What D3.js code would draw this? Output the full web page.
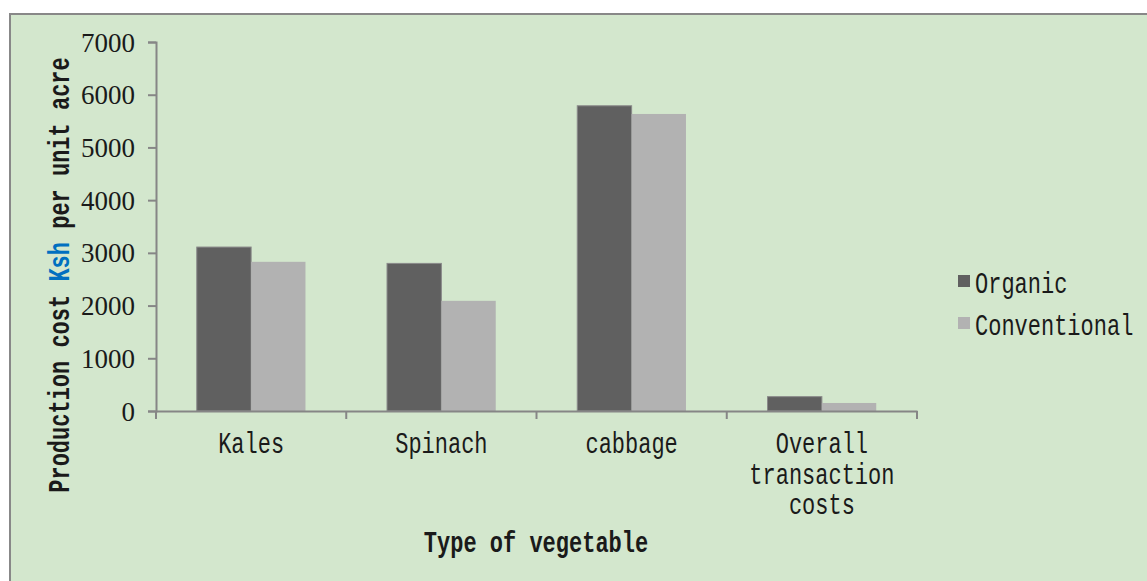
<!DOCTYPE html>
<html>
<head>
<meta charset="utf-8">
<script src="https://cdn.jsdelivr.net/npm/d3@7"></script>
<style>
  html, body { margin: 0; padding: 0; background: #fff; }
  svg text { font-family: "Liberation Mono", "DejaVu Sans Mono", monospace; fill: #1a1a1a; }
</style>
</head>
<body>
<svg id="chart" width="1147" height="581"></svg>
<script>
var categories = [['Kales'], ['Spinach'], ['cabbage'], ['Overall', 'transaction', 'costs']];
var seriesNames = ['Organic', 'Conventional'];
var organic = [3110, 2800, 5790, 272];
var conventional = [2830, 2090, 5635, 152];
var yTicks = [0, 1000, 2000, 3000, 4000, 5000, 6000, 7000];

var colors = { Organic: '#606060', Conventional: '#b2b2b2' };
var axisColor = '#868686';
var FS = 22, SY = 1.32; // mono font stretched vertically to look like the original

var svg = d3.select('#chart');

// panel
svg.append('rect')
  .attr('x', 10).attr('y', 14)
  .attr('width', 1200).attr('height', 620)
  .attr('fill', '#d3e7cd')
  .attr('stroke', '#888').attr('stroke-width', 2);

var plotLeft = 156, plotRight = 917, plotTop = 42, plotBottom = 411;

var x = d3.scaleBand()
  .domain(d3.range(categories.length))
  .range([plotLeft, plotRight]);

var x1 = d3.scaleBand()
  .domain(seriesNames)
  .range([0, x.bandwidth()])
  .paddingInner(0)
  .paddingOuter(0.75);

var y = d3.scaleLinear()
  .domain([0, 7000])
  .range([plotBottom, plotTop]);

function stext(g, tx, ty, str, anchor, extra) {
  return g.append('text')
    .attr('transform', 'translate(' + tx + ',' + ty + ')' + (extra || '') + ' scale(1,' + SY + ')')
    .attr('text-anchor', anchor || 'start')
    .attr('font-size', FS)
    .text(str);
}

// bars
var rows = categories.map(function (c, i) {
  return [{ s: 'Organic', v: organic[i] }, { s: 'Conventional', v: conventional[i] }];
});

var groups = svg.append('g').selectAll('g')
  .data(rows)
  .join('g')
  .attr('transform', function (d, i) { return 'translate(' + x(i) + ',0)'; });

groups.selectAll('rect')
  .data(function (d) { return d; })
  .join('rect')
  .attr('x', function (d) { return x1(d.s); })
  .attr('y', function (d) { return y(d.v); })
  .attr('width', x1.bandwidth())
  .attr('height', function (d) { return y(0) - y(d.v); })
  .attr('fill', function (d) { return colors[d.s]; })
  .attr('stroke', function (d) { return d.s === 'Organic' ? '#8a8a8a' : 'none'; })
  .attr('stroke-width', 1);

// y axis
var yAxis = svg.append('g')
  .attr('transform', 'translate(' + plotLeft + ',0)')
  .call(d3.axisLeft(y).tickValues(yTicks).tickSize(8).tickPadding(13).tickFormat(d3.format('d')));
yAxis.select('.domain').attr('stroke', axisColor).attr('stroke-width', 2);
yAxis.selectAll('.tick line').attr('stroke', axisColor).attr('stroke-width', 2);
yAxis.selectAll('.tick text')
  .attr('dy', null)
  .attr('y', 9)
  .style('font-family', '"Liberation Serif", "DejaVu Serif", serif')
  .style('font-size', '27px')
  .style('fill', '#1a1a1a');

// x axis
var xAxis = svg.append('g')
  .attr('transform', 'translate(0,' + plotBottom + ')')
  .call(d3.axisBottom(x).tickSize(0).tickFormat(''));
xAxis.select('.domain').attr('stroke', axisColor).attr('stroke-width', 2);
xAxis.selectAll('.tick').remove();
var bounds = d3.range(categories.length + 1).map(function (i) {
  return i < categories.length ? x(i) : x(i - 1) + x.bandwidth();
});
xAxis.selectAll('line.sep')
  .data(bounds)
  .join('line')
  .attr('class', 'sep')
  .attr('x1', function (d) { return d; })
  .attr('x2', function (d) { return d; })
  .attr('y1', 0).attr('y2', 8)
  .attr('stroke', axisColor).attr('stroke-width', 2);

var xLab = svg.append('g');
categories.forEach(function (lines, i) {
  var cx = x(i) + x.bandwidth() / 2;
  lines.forEach(function (ln, j) {
    stext(xLab, cx, 453 + j * 30.7, ln, 'middle');
  });
});

// axis titles
stext(svg, 536, 552, 'Type of vegetable', 'middle').attr('font-weight', 'bold');

var yt = stext(svg, 69, 275, '', 'middle', ' rotate(-90)').attr('font-weight', 'bold');
yt.append('tspan').text('Production cost ');
yt.append('tspan').text('Ksh').style('fill', '#0070c0');
yt.append('tspan').text(' per unit acre');

// legend
var leg = svg.append('g');
seriesNames.forEach(function (s, i) {
  var ly = 293 + i * 42;
  leg.append('rect')
    .attr('x', 958).attr('y', ly - 18)
    .attr('width', 12).attr('height', 12)
    .attr('fill', colors[s]);
  stext(leg, 975, ly, s, 'start');
});
</script>
</body>
</html>
